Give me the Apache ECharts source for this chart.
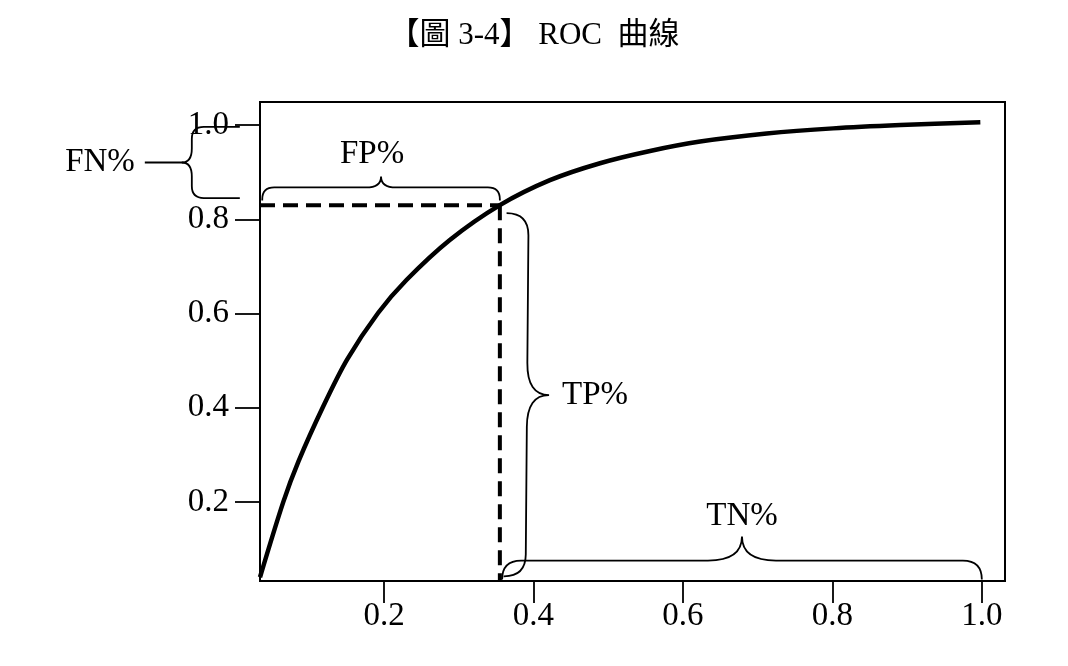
<!DOCTYPE html>
<html>
<head>
<meta charset="utf-8">
<script src="https://cdn.jsdelivr.net/npm/echarts@6/dist/echarts.min.js"></script>
<style>
html,body{margin:0;padding:0;background:#fff;}
#chart{width:1068px;height:666px;}
</style>
</head>
<body>
<div id="chart"></div>
<script>
// ---- data ----
const titleText = '【圖 3-4】 ROC  曲線';
const tickValues = [0.2, 0.4, 0.6, 0.8, 1.0];
const xRange = [0.034, 1.031];
const yRange = [0.032, 1.049];
const rocFpr = [0.034, 0.0652, 0.0855, 0.1187, 0.1505, 0.192, 0.230, 0.288, 0.355, 0.422, 0.489, 0.556, 0.623, 0.712, 0.801, 0.891, 0.998];
const rocTpr = [0.040, 0.200, 0.286, 0.403, 0.502, 0.601, 0.671, 0.756, 0.830, 0.883, 0.919, 0.945, 0.965, 0.982, 0.993, 1.000, 1.006];
const cutFpr = 0.355;
const cutTpr = 0.830;
// braces: [x1, y1] -> [x2, y2] in data units, with label text
const braceNames = ['FN%', 'FP%', 'TP%', 'TN%'];
const braceStart = [[0.007, 0.996], [0.037, 0.840], [0.364, 0.813], [0.358, 0.035]];
const braceEnd   = [[0.007, 0.845], [0.355, 0.840], [0.360, 0.042], [1.000, 0.035]];

// ---- style for the braces (pixels) ----
const braceStyle = [
  {side: 1,  d1: 48, d2: 10, w: 14, r: 12, tail: 47, gap: 10, align: 'right',  shift: 0},
  {side: -1, d1: 13, d2: 11, w: 15, r: 12, tail: 0,  gap: 22, align: 'center', shift: -9},
  {side: -1, d1: 22, d2: 22, w: 32, r: 22, tail: 0,  gap: 13, align: 'left',   shift: 0},
  {side: -1, d1: 19, d2: 24, w: 34, r: 19, tail: 0,  gap: 20, align: 'center', shift: 0}
];

const serif = '"Liberation Serif", "Times New Roman", serif';
const chart = echarts.init(document.getElementById('chart'));

const curveData = rocFpr.map((x, i) => [x, rocTpr[i]]);
const braceData = braceStart.map((s, i) => [s[0], s[1], braceEnd[i][0], braceEnd[i][1], i]);

function renderBrace(params, api) {
  const i = api.value(4);
  const st = braceStyle[i];
  const p1 = api.coord([api.value(0), api.value(1)]);
  const p2 = api.coord([api.value(2), api.value(3)]);
  const dx = p2[0] - p1[0], dy = p2[1] - p1[1];
  const L = Math.sqrt(dx * dx + dy * dy);
  const u = [dx / L, dy / L];
  const n = [-u[1] * st.side, u[0] * st.side];
  const P = (s, t) => {
    const x = p1[0] + s * u[0] + t * n[0];
    const y = p1[1] + s * u[1] + t * n[1];
    return x.toFixed(2) + ' ' + y.toFixed(2);
  };
  const h = L / 2, d1 = st.d1, d2 = st.d2, r = st.r, w = st.w;
  let d = 'M ' + P(0, 0) +
    ' L ' + P(0, d1 - r) +
    ' Q ' + P(0, d1) + ' ' + P(r, d1) +
    ' L ' + P(h - w, d1) +
    ' Q ' + P(h, d1) + ' ' + P(h, d1 + d2) +
    ' Q ' + P(h, d1) + ' ' + P(h + w, d1) +
    ' L ' + P(L - r, d1) +
    ' Q ' + P(L, d1) + ' ' + P(L, d1 - r) +
    ' L ' + P(L, 0);
  const children = [{
    type: 'path',
    shape: {pathData: d},
    style: {stroke: '#000', fill: 'none', lineWidth: 1.8}
  }];
  if (st.tail > 0) {
    children.push({
      type: 'path',
      shape: {pathData: 'M ' + P(h, d1 + d2 - 2) + ' L ' + P(h, d1 + st.tail)},
      style: {stroke: '#000', fill: 'none', lineWidth: 2.2}
    });
  }
  const tipT = d1 + Math.max(d2, st.tail) + st.gap;
  const tx = p1[0] + h * u[0] + tipT * n[0] + st.shift;
  const ty = p1[1] + h * u[1] + tipT * n[1];
  children.push({
    type: 'text',
    style: {
      text: braceNames[i], x: tx, y: ty, fill: '#000',
      font: '33px ' + serif,
      align: st.align, verticalAlign: 'middle'
    }
  });
  return {type: 'group', children: children};
}

const option = {
  animation: false,
  backgroundColor: '#fff',
  title: {
    text: titleText, left: 'center', top: 15,
    textStyle: {fontFamily: '"Liberation Serif", "Noto Sans CJK TC", serif', fontSize: 31, fontWeight: 'normal', color: '#000'}
  },
  grid: {left: 260, right: 63, top: 102, bottom: 85, show: true, borderColor: '#000', borderWidth: 2},
  xAxis: {
    type: 'value', min: xRange[0], max: xRange[1],
    axisLine: {show: true, onZero: false, lineStyle: {color: '#000', width: 2}},
    axisTick: {show: true, inside: false, length: 22, customValues: tickValues, lineStyle: {color: '#000', width: 1.8}},
    axisLabel: {customValues: tickValues, margin: 19, color: '#000', fontFamily: serif, fontSize: 33,
      formatter: v => Number(v).toFixed(1)},
    splitLine: {show: false}
  },
  yAxis: {
    type: 'value', min: yRange[0], max: yRange[1],
    axisLine: {show: true, onZero: false, lineStyle: {color: '#000', width: 2}},
    axisTick: {show: true, inside: false, length: 25, customValues: tickValues, lineStyle: {color: '#000', width: 1.8}},
    axisLabel: {customValues: tickValues, margin: 31, color: '#000', fontFamily: serif, fontSize: 33,
      formatter: v => Number(v).toFixed(1)},
    splitLine: {show: false}
  },
  series: [
    {
      type: 'line', data: curveData, smooth: 0.3, showSymbol: false,
      lineStyle: {color: '#000', width: 4.5}, z: 3
    },
    {
      type: 'line', data: [[xRange[0], cutTpr], [cutFpr, cutTpr]], showSymbol: false,
      lineStyle: {color: '#000', width: 4, type: [15, 8]}, z: 2
    },
    {
      type: 'line', data: [[cutFpr, cutTpr], [cutFpr, yRange[0]]], showSymbol: false,
      lineStyle: {color: '#000', width: 4, type: [15, 8]}, z: 2
    },
    {
      type: 'custom', data: braceData, clip: false,
      encode: {x: [0, 2], y: [1, 3]},
      renderItem: renderBrace, z: 4
    }
  ]
};
chart.setOption(option);
</script>
</body>
</html>
